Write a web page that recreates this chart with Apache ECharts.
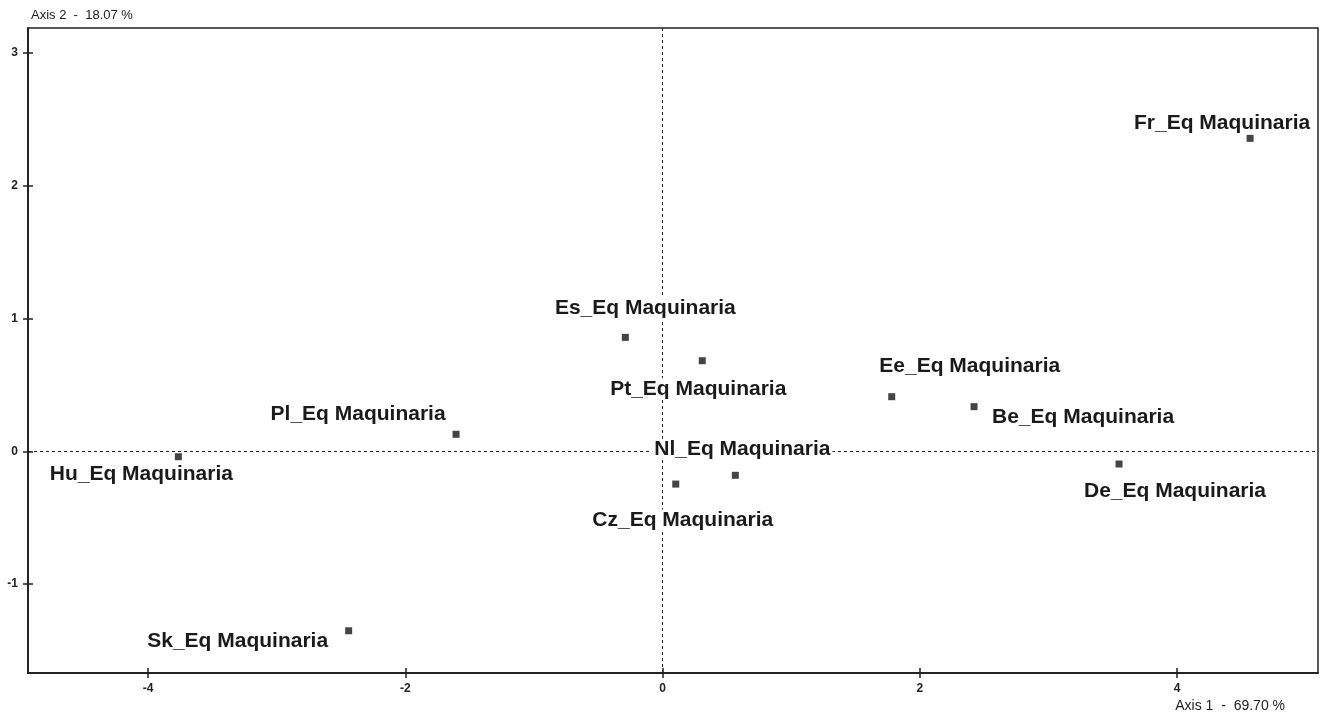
<!DOCTYPE html>
<html>
<head>
<meta charset="utf-8">
<script src="https://cdn.jsdelivr.net/npm/echarts@6/dist/echarts.min.js"></script>
<style>
  html, body { margin: 0; padding: 0; background: #fff; }
  #chart { width: 1330px; height: 716px; }
</style>
</head>
<body>
<div id="chart"></div>
<script>
// Factor map of machinery-equipment items on the first two axes
const names = ['Fr_Eq Maquinaria', 'Es_Eq Maquinaria', 'Pt_Eq Maquinaria', 'Nl_Eq Maquinaria',
  'Cz_Eq Maquinaria', 'Ee_Eq Maquinaria', 'Be_Eq Maquinaria', 'De_Eq Maquinaria',
  'Pl_Eq Maquinaria', 'Hu_Eq Maquinaria', 'Sk_Eq Maquinaria'];
const axis1 = [4.568, -0.289, 0.309, 0.566, 0.103, 1.782, 2.422, 3.549, -1.605, -3.764, -2.440];
const axis2 = [2.357, 0.858, 0.682, -0.181, -0.247, 0.411, 0.336, -0.096, 0.128, -0.041, -1.352];
const xTicks = [-4, -2, 0, 2, 4];
const yTicks = [-1, 0, 1, 2, 3];
const xTitle = 'Axis 1  -  69.70 %';
const yTitle = 'Axis 2  -  18.07 %';

// label placement relative to each marker (pixels)
const labelShift = [[-28, -15], [20, -29], [-4, 28], [7, -26], [7, 36], [78, -31],
  [109, 11], [56, 27], [-98, -20], [-37, 17], [-111, 10]];

const FONT = "'Liberation Sans', Arial, sans-serif";
const X_MIN = -4.933, X_MAX = 5.096, Y_MIN = -1.670, Y_MAX = 3.188;

const points = names.map((n, i) => ({ name: n, value: [axis1[i], axis2[i]] }));

function valueAxis(min, max, ticks, inside, pos, margin) {
  return {
    type: 'value', min: min, max: max, position: pos,
    splitLine: { show: false },
    axisLine: { show: true, onZero: false, lineStyle: { color: '#222', width: 1.5 } },
    axisTick: { show: true, inside: inside, length: 5, customValues: ticks,
      lineStyle: { color: '#222', width: 1.5 } },
    axisLabel: { show: !inside, customValues: ticks, color: '#222', fontSize: 12,
      fontWeight: 'bold', fontFamily: FONT, margin: margin }
  };
}

const chart = echarts.init(document.getElementById('chart'), null, { renderer: 'canvas' });
chart.setOption({
  animation: false,
  backgroundColor: '#fff',
  title: [
    { text: yTitle, left: 26, top: 4,
      textStyle: { fontSize: 13, fontWeight: 'normal', color: '#222', fontFamily: FONT } },
    { text: xTitle, right: 40, bottom: -2,
      textStyle: { fontSize: 14, fontWeight: 'normal', color: '#222', fontFamily: FONT } }
  ],
  grid: { left: 28, right: 12, top: 28, bottom: 43, show: true,
    borderColor: '#222', borderWidth: 1.5, backgroundColor: 'transparent' },
  xAxis: [valueAxis(X_MIN, X_MAX, xTicks, false, 'bottom', 10), valueAxis(X_MIN, X_MAX, xTicks, true, 'bottom', 10)],
  yAxis: [valueAxis(Y_MIN, Y_MAX, yTicks, false, 'left', 10), valueAxis(Y_MIN, Y_MAX, yTicks, true, 'left', 10)],
  series: [
    {
      // dashed origin lines
      type: 'scatter', data: [], z: 1, silent: true,
      markLine: {
        silent: true, symbol: 'none', label: { show: false },
        lineStyle: { color: '#222', type: [3, 3], width: 1 },
        data: [{ xAxis: 0 }, { yAxis: 0 }]
      }
    },
    {
      type: 'scatter', z: 5,
      symbol: 'rect', symbolSize: 7,
      itemStyle: { color: '#444', opacity: 1 },
      data: points,
      label: {
        show: true, position: 'inside',
        formatter: p => p.name,
        color: '#1a1a1a', fontSize: 21, fontWeight: 'bold', fontFamily: FONT,
        backgroundColor: '#fff', padding: [0, 2]
      },
      labelLayout: p => ({ dx: labelShift[p.dataIndex][0], dy: labelShift[p.dataIndex][1], hideOverlap: false })
    }
  ]
});
</script>
</body>
</html>
